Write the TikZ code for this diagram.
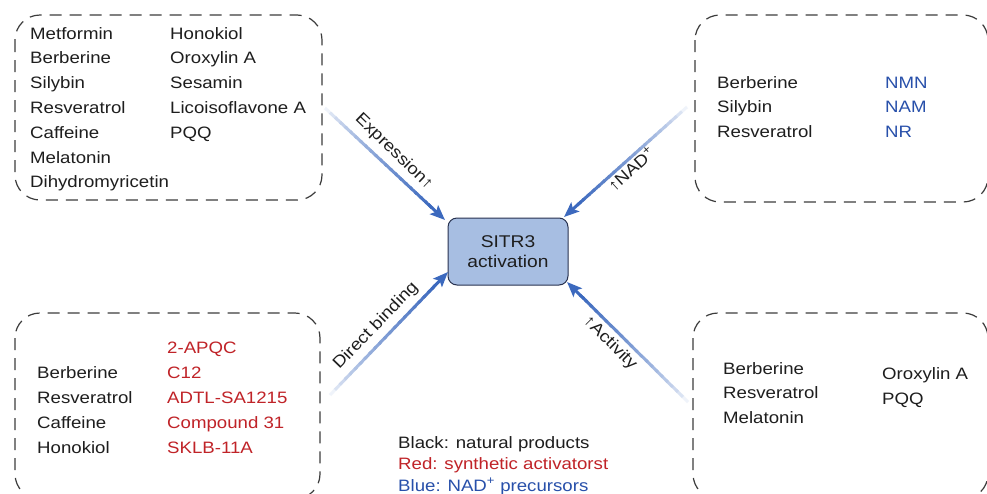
\documentclass[tikz,border=0pt]{standalone}
\usepackage{fontspec}
\setmainfont{Liberation Sans}[FakeStretch=1.13]
\usetikzlibrary{arrows.meta,calc}
\definecolor{arrowblue}{RGB}{60,105,190}
\definecolor{boxfill}{RGB}{167,190,226}
\definecolor{boxline}{RGB}{40,50,80}
\definecolor{redtxt}{RGB}{192,35,40}
\definecolor{bluetxt}{RGB}{40,80,170}
\definecolor{dashgray}{RGB}{60,60,60}
\definecolor{txtblack}{RGB}{30,30,30}
\newcommand{\gradarw}[2]{%
  \foreach \i in {0,...,20}{%
    \pgfmathsetmacro\pc{8+92*(\i/21)^0.7}%
    \draw[line width=3pt, arrowblue!\pc!white] ($(#1)!{\i/24}!(#2)$) -- ($(#1)!{(\i+1.4)/24}!(#2)$);
  }%
  \draw[line width=3pt, arrowblue, -{Stealth[length=15pt,width=12pt,inset=3pt]}] ($(#1)!0.86!(#2)$) -- (#2);
}
\begin{document}
\begin{tikzpicture}[x=1pt,y=-1pt,
  font=\fontsize{16.5}{19}\selectfont,
  group/.style={draw=dashgray, dash pattern=on 12pt off 8pt, line width=1.2pt, rounded corners=25pt},
  item/.style={anchor=base west, inner sep=0pt, text=txtblack},
  reditem/.style={item, text=redtxt},
  blueitem/.style={item, text=bluetxt},
  lbl/.style={inner sep=0pt, text=txtblack},
  center/.style={draw=boxline, line width=1pt, fill=boxfill, rounded corners=9pt,
    minimum width=120pt, minimum height=67pt, align=center, text=txtblack, font=\fontsize{17}{20}\selectfont}]
\useasboundingbox (0,0) rectangle (987,493);
\clip (0,0) rectangle (987,493);
\fill[white] (0,0) rectangle (987,493);

% group boxes
\draw[group] (15,15) rectangle (322,200);
\draw[group] (695,15) rectangle (988,202);
\draw[group] (15,313) rectangle (320,499);
\draw[group] (693,313) rectangle (988,499);

% center node
\node[center] (sirt) at (508,251.5) {SITR3\\activation};

% arrow coordinates
\coordinate (tls) at (325,108);
\coordinate (tle) at (445,220);
\coordinate (trs) at (687,107);
\coordinate (tre) at (564,217);
\coordinate (bls) at (330,395);
\coordinate (ble) at (448,272);
\coordinate (brs) at (688,402);
\coordinate (bre) at (567,282);
\gradarw{tls}{tle}
\gradarw{trs}{tre}
\gradarw{bls}{ble}
\gradarw{brs}{bre}

% arrow labels
\node[lbl, rotate=-44] (l1) at (394,152) {Expression↑};
\node[lbl, rotate=42] (l2) at (631,169) {↑NAD\textsuperscript{+}};
\node[lbl, rotate=46] (l3) at (376,326) {Direct binding};
\node[lbl, rotate=-45] (l4) at (610,343) {↑Activity};

% top-left group
\node[item] (a1) at (30,39) {Metformin};
\node[item] (a2) at (30,63.8) {Berberine};
\node[item] (a3) at (30,88.6) {Silybin};
\node[item] (a4) at (30,113.4) {Resveratrol};
\node[item] (a5) at (30,138.2) {Caffeine};
\node[item] (a6) at (30,163) {Melatonin};
\node[item] (a7) at (30,187.8) {Dihydromyricetin};
\node[item] (b1) at (170,39) {Honokiol};
\node[item] (b2) at (170,63.8) {Oroxylin A};
\node[item] (b3) at (170,88.6) {Sesamin};
\node[item] (b4) at (170,113.4) {Licoisoflavone A};
\node[item] (b5) at (170,138.2) {PQQ};

% top-right group
\node[item] (c1) at (717,88) {Berberine};
\node[item] (c2) at (717,112.5) {Silybin};
\node[item] (c3) at (717,137) {Resveratrol};
\node[blueitem] (d1) at (885,88) {NMN};
\node[blueitem] (d2) at (885,112.5) {NAM};
\node[blueitem] (d3) at (885,137) {NR};

% bottom-left group
\node[reditem] (e0) at (167,353) {2-APQC};
\node[item] (f1) at (37,378) {Berberine};
\node[item] (f2) at (37,403) {Resveratrol};
\node[item] (f3) at (37,428) {Caffeine};
\node[item] (f4) at (37,453) {Honokiol};
\node[reditem] (e1) at (167,378) {C12};
\node[reditem] (e2) at (167,403) {ADTL-SA1215};
\node[reditem] (e3) at (167,428) {Compound 31};
\node[reditem] (e4) at (167,453) {SKLB-11A};

% bottom-right group
\node[item] (g1) at (723,374) {Berberine};
\node[item] (g2) at (723,398.5) {Resveratrol};
\node[item] (g3) at (723,423) {Melatonin};
\node[item] (h1) at (882,379) {Oroxylin A};
\node[item] (h2) at (882,404) {PQQ};

% legend
\node[item] (k1) at (398,448) {Black: natural products};
\node[reditem] (k2) at (398,469.5) {Red: synthetic activatorst};
\node[blueitem] (k3) at (398,491) {Blue: NAD\textsuperscript{+} precursors};
\end{tikzpicture}
\end{document}
